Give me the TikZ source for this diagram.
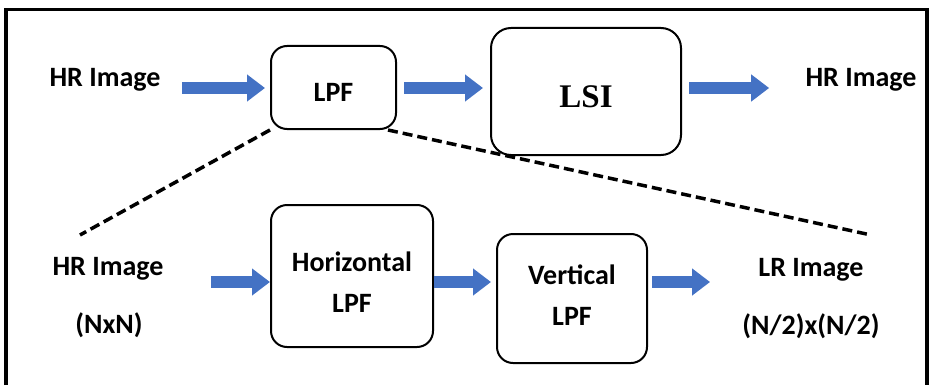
\documentclass[tikz,border=0pt]{standalone}
\usepackage{fontspec}
\setmainfont{Carlito}
\newfontfamily\lsifont{Liberation Serif}
\usetikzlibrary{
    arrows.meta,
    positioning,
    calc
}
\definecolor{arrowblue}{RGB}{68,114,196}
\tikzset{
    procbox/.style={draw=black, line width=1pt, rounded corners=8pt, fill=white,
        align=center, inner sep=0pt, font=\bfseries\fontsize{14}{20.5}\selectfont},
    imglabel/.style={inner sep=0pt, anchor=base, font=\bfseries\fontsize{14}{17}\selectfont},
    blockarrow/.style={draw=arrowblue, line width=6pt, -{Triangle[width=13pt,length=9pt]}},
    zoomline/.style={line width=1.75pt, dash pattern=on 5pt off 2.5pt},
}

\begin{document}
\begin{tikzpicture}[x=0.5pt, y=-0.5pt]
    \useasboundingbox (0,0) rectangle (929,385);
    % frame, open at the bottom
    \draw[line width=1.75pt] (6,385) -- (6,9.5) -- (927,9.5) -- (927,385);

    % heights of the two arrow rows
    \coordinate (toprow) at (0,88);
    \coordinate (lowrow) at (0,282);

    % top row
    \node[imglabel] (hrin) at (105,86) {HR Image};
    \node[procbox, minimum width=62.5pt, minimum height=41.5pt, text height=13.5pt, text depth=0pt] (lpf) at (333.5,87.5) {LPF};
    \node[procbox, rounded corners=10pt, minimum width=95pt, minimum height=63.5pt, text height=16pt, text depth=0pt,
        font=\lsifont\bfseries\fontsize{16.5}{19}\selectfont] (lsi) at (586,91.5) {LSI};
    \node[imglabel] (hrout) at (861,86) {HR Image};

    \draw[blockarrow, shorten <=10.5pt, shorten >=2.5pt] (hrin.east |- toprow) -- (lpf.west |- toprow);
    \draw[blockarrow, shorten <=3.5pt, shorten >=3.5pt] (lpf.east |- toprow) -- (lsi.west |- toprow);
    \draw[blockarrow, shorten <=3.5pt, shorten >=18pt] (lsi.east |- toprow) -- (hrout.west |- toprow);

    % bottom row
    \node[imglabel] (hrlo) at (108,275) {HR Image};
    \node[imglabel] (hrsize) at (109,333) {(NxN)};
    \node[procbox, minimum width=81pt, minimum height=71pt] (hlpf) at (352,276) {\rule{0pt}{15.5pt}Horizontal\\LPF};
    \node[procbox, minimum width=75pt, minimum height=64.5pt] (vlpf) at (572,298.5) {Vertical\\LPF\rule[-3pt]{0pt}{3pt}};
    \node[imglabel] (lrimg) at (811,276) {LR Image};
    \node[imglabel] (lrsize) at (811,334) {(N/2)x(N/2)};

    \draw[blockarrow, shorten <=23.5pt] (hrlo.east |- lowrow) -- (hlpf.west |- lowrow);
    \draw[blockarrow, shorten >=2.5pt] (hlpf.east |- lowrow) -- (vlpf.west |- lowrow);
    \draw[blockarrow, shorten <=2pt, shorten >=24pt] (vlpf.east |- lowrow) -- (lrimg.west |- lowrow);

    % zoom lines from LPF to the lower row
    \coordinate (zoomleft) at (80,235);
    \coordinate (zoomright) at (871,235);
    \draw[zoomline] (lpf.south west) -- (zoomleft);
    \draw[zoomline] ([xshift=-4.5pt]lpf.south east) -- (zoomright);
\end{tikzpicture}
\end{document}
